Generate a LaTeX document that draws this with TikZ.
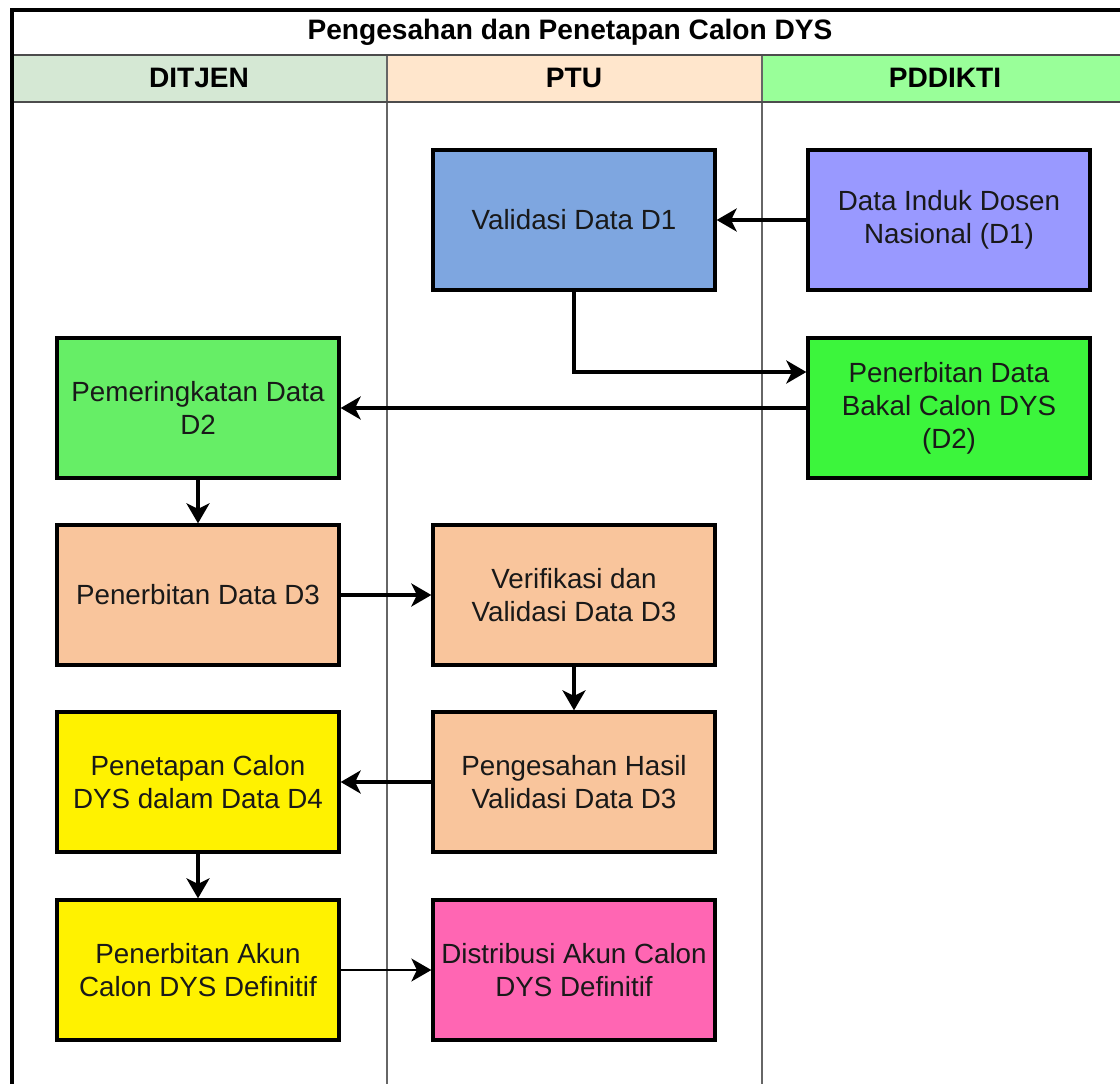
\documentclass[tikz,border=0pt]{standalone}
\usepackage{fontspec}
\setmainfont{Liberation Sans}
\usetikzlibrary{arrows.meta}
\definecolor{headditjen}{HTML}{D5E8D4}
\definecolor{headptu}{HTML}{FFE6CC}
\definecolor{headpddikti}{HTML}{99FF99}
\definecolor{cvalid}{HTML}{7EA6E0}
\definecolor{cdosen}{HTML}{9999FF}
\definecolor{cbakal}{HTML}{3CF53C}
\definecolor{crank}{HTML}{66EE66}
\definecolor{cpeach}{HTML}{F9C59C}
\definecolor{cpink}{HTML}{FF66B3}
\tikzset{
	proc/.style={draw=black, line width=1.9pt, minimum width=5.64cm, minimum height=2.8cm, align=center, text=black!90, font=\fontsize{15.8}{18.8}\selectfont},
	title/.style={font=\bfseries\fontsize{16}{19}\selectfont},
	lane/.style={draw=black!60, line width=0.8pt},
	flow/.style={->, line width=1.9pt},
}
\begin{document}
\begin{tikzpicture}[x=0.02cm, y=-0.02cm, >={Stealth[length=0.4cm, width=0.46cm, inset=0.11cm]}]
	\useasboundingbox (0,0) rectangle (1120,1083);
	\clip (0,0) rectangle (1120,1083);
	% swimlanes
	\fill[headditjen] (12,55) rectangle (387,102);
	\fill[headptu] (387,55) rectangle (762,102);
	\fill[headpddikti] (762,55) rectangle (1128,102);
	\draw[lane] (387,55) -- (387,1100);
	\draw[lane] (762,55) -- (762,1100);
	\draw[lane, line width=1.2pt, draw=black!70] (12,55) -- (1128,55);
	\draw[lane, line width=1.2pt, draw=black!70] (12,102) -- (1128,102);
	\draw[line width=1.9pt] (12,10) rectangle (1128,1100);
	\node[title] (judul) at (570,32) {Pengesahan dan Penetapan Calon DYS};
	\node[title] (ditjen) at (199,78) {DITJEN};
	\node[title] (ptu) at (574,78) {PTU};
	\node[title] (pddikti) at (945,78) {PDDIKTI};
	% proses
	\node[proc, fill=cvalid] (validd1) at (574,220) {Validasi Data D1};
	\node[proc, fill=cdosen] (dosen) at (949,220) {Data Induk Dosen\\Nasional (D1)};
	\node[proc, fill=cbakal] (bakal) at (949,408) {Penerbitan Data\\Bakal Calon DYS\\(D2)};
	\node[proc, fill=crank] (peringkat) at (198,408) {Pemeringkatan Data\\D2};
	\node[proc, fill=cpeach] (terbitd3) at (198,595) {Penerbitan Data D3};
	\node[proc, fill=cpeach] (verif) at (574,595) {Verifikasi dan\\Validasi Data D3};
	\node[proc, fill=cpeach] (sah) at (574,782) {Pengesahan Hasil\\Validasi Data D3};
	\node[proc, fill=yellow] (tetap) at (198,782) {Penetapan Calon\\DYS dalam Data D4};
	\node[proc, fill=yellow] (akun) at (198,970) {Penerbitan Akun\\Calon DYS Definitif};
	\node[proc, fill=cpink] (distribusi) at (574,970) {Distribusi Akun Calon\\DYS Definitif};
	% alur
	\coordinate (belok) at (574,372);
	\draw[flow] (dosen) -- (validd1);
	\draw[flow] (validd1) -- (belok) -- (belok -| bakal.west);
	\draw[flow] (bakal) -- (peringkat);
	\draw[flow] (peringkat) -- (terbitd3);
	\draw[flow] (terbitd3) -- (verif);
	\draw[flow] (verif) -- (sah);
	\draw[flow] (sah) -- (tetap);
	\draw[flow] (tetap) -- (akun);
	\draw[flow, line width=1.1pt] (akun) -- (distribusi);
\end{tikzpicture}
\end{document}
